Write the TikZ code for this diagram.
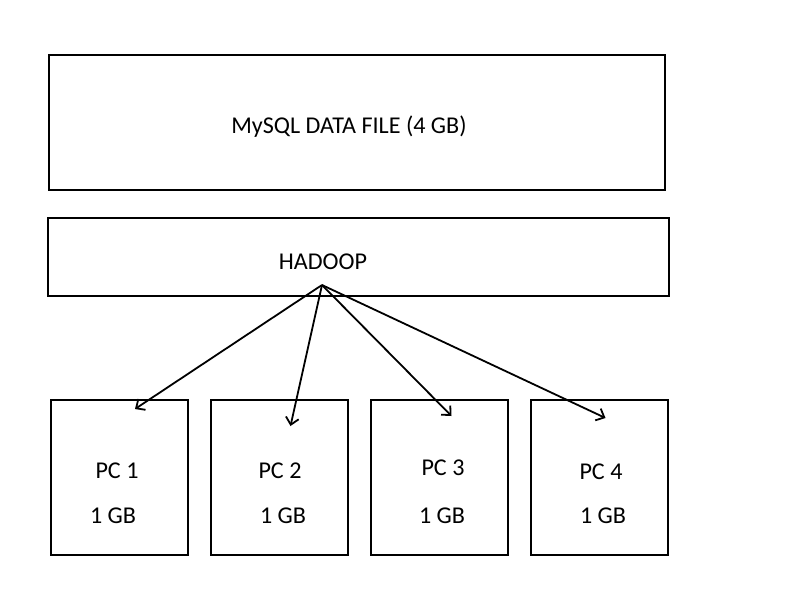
\documentclass[tikz,border=0pt]{standalone}
\usepackage{fontspec}
\setmainfont{Carlito}
\usetikzlibrary{arrows.meta}
\begin{document}
\begin{tikzpicture}[x=1pt,y=-1pt,
  box/.style={draw=black,line width=2pt,inner sep=0pt},
  lbl/.style={font=\fontsize{24.1}{28}\selectfont,inner sep=0pt,anchor=center},
  link/.style={line width=1.8pt,-{Straight Barb[length=7pt,width=13pt,line width=1.8pt]}}]
\useasboundingbox[fill=white] (0,0) rectangle (800,600);
\node[box,minimum width=616pt,minimum height=135pt] (mysql) at (357,122.5) {};
\node[lbl] (mysqlt) at (349,127) {MySQL DATA FILE (4 GB)};
\node[box,minimum width=621pt,minimum height=78pt] (hadoop) at (358.5,257) {};
\node[lbl] (hadoopt) at (323,262) {HADOOP};
\foreach \i/\cx/\tx/\ty/\gx in {1/119.5/117/471/113, 2/279.5/280/471/283, 3/439.5/443/468/442, 4/599.5/601/472/603}{
  \node[box,minimum width=137pt,minimum height=155pt] (pc\i) at (\cx,477.5) {};
  \node[lbl] (pct\i) at (\tx,\ty) {PC \i};
  \node[lbl] (gb\i) at (\gx,516) {1 GB};
}
\coordinate (src) at (322,285);
\coordinate (t1) at (135,409);
\coordinate (t2) at (290.5,426);
\coordinate (t3) at (451.5,416);
\coordinate (t4) at (605.5,418);
\foreach \i in {1,2,3,4}{\draw[link] (src) -- (t\i);}
\end{tikzpicture}
\end{document}
